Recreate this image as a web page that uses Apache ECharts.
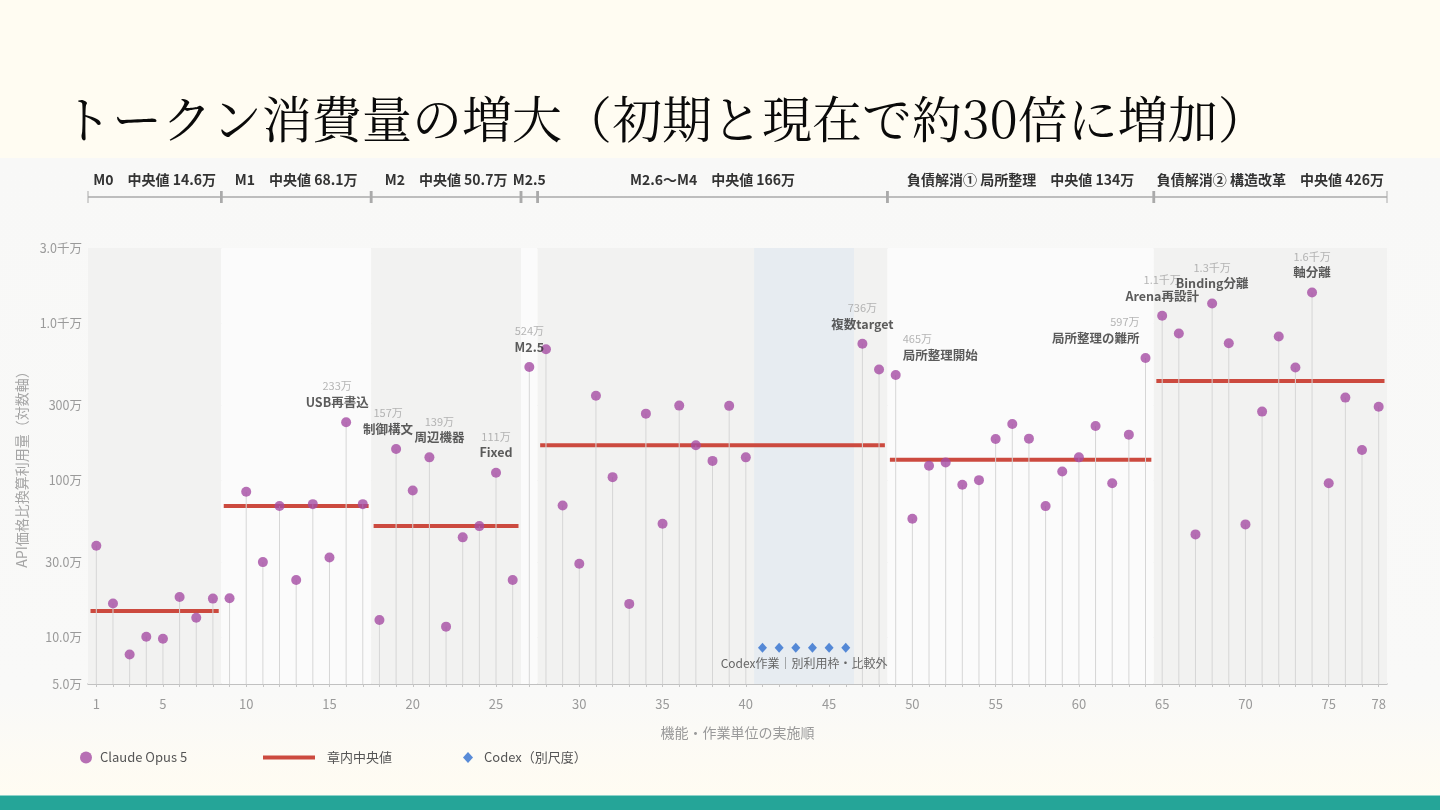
<!DOCTYPE html>
<html>
<head>
<meta charset="utf-8">
<script src="https://cdn.jsdelivr.net/npm/echarts@6/dist/echarts.min.js"></script>
<style>
  html, body { margin: 0; padding: 0; background: #fffcf2; }
  #panel { position: absolute; left: 0; top: 158px; width: 1440px; height: 637px;
           background: linear-gradient(#f8f8f7 0%, #f9f9f8 84%, #fffcf2 100%); }
  #bar { position: absolute; left: 0; top: 795px; width: 1440px; height: 15px;
         background: #25a598; border-top: 1px solid #8fd3ca; box-sizing: border-box; }
  #chart { position: absolute; left: 0; top: 0; width: 1440px; height: 810px; }
</style>
</head>
<body>
<div id="panel"></div>
<div id="bar"></div>
<div id="chart"></div>
<script>
const FONT = "'Noto Sans CJK JP', 'Noto Sans', sans-serif";

// Claude Opus 5: 実施順 1..78 の利用量（万）。null = Codex 区間
const claude = [
  38, 16.3, 7.7, 10.0, 9.7, 17.9, 13.2, 17.5,            // M0
  17.6, 84, 29.9, 68.1, 23, 70, 32, 233, 70,             // M1
  12.8, 157, 85.5, 139, 11.6, 43, 50.7, 111, 23,         // M2
  524,                                                   // M2.5
  679, 68.6, 29.2, 343, 104, 16.2, 264, 52.5, 297, 166,  // M2.6〜M4
  132, 296, 139, null, null, null, null, null, null, 736, 505,
  465, 56.5, 123, 129, 93, 99.5, 182, 227, 183, 68,      // 負債解消①
  113, 139, 220, 95, 194, 597,
  1110, 855, 44.9, 1330, 742, 52, 272, 818, 519, 1560,   // 負債解消②
  95, 334, 155, 292
];

// Codex（別尺度）
const codexSteps = [41, 42, 43, 44, 45, 46];
const codex = [8.5, 8.5, 8.5, 8.5, 8.5, 8.5];

// 章
const chapterNames = [
  'M0　中央値 14.6万', 'M1　中央値 68.1万', 'M2　中央値 50.7万', 'M2.5',
  'M2.6〜M4　中央値 166万', '負債解消① 局所整理　中央値 134万', '負債解消② 構造改革　中央値 426万'
];
const chapterStart = [0.5, 8.5, 17.5, 26.5, 27.5, 48.5, 64.5];
const chapterEnd = [8.5, 17.5, 26.5, 27.5, 48.5, 64.5, 78.5];
const chapterMedian = [14.6, 68.1, 50.7, null, 166, 134, 426];

// 注記 [実施順, 名称, 横ずれ, 揃え]
const notes = [
  [16, 'USB再書込', -9, 'center'],
  [19, '制御構文', -8, 'center'],
  [21, '周辺機器', 10, 'center'],
  [25, 'Fixed', 0, 'center'],
  [27, 'M2.5', 0, 'center'],
  [47, '複数target', 0, 'center'],
  [49, '局所整理開始', 7, 'left'],
  [64, '局所整理の難所', -6, 'right'],
  [65, 'Arena再設計', 0, 'center'],
  [68, 'Binding分離', 0, 'center'],
  [74, '軸分離', 0, 'center']
];

const xLabels = [1, 5, 10, 15, 20, 25, 30, 35, 40, 45, 50, 55, 60, 65, 70, 75, 78];
const yTicks = [5, 10, 30, 100, 300, 1000, 3000];

function fmtWan(v) {
  if (v >= 1000) return (v / 1000).toFixed(1) + '千万';
  if (v >= 100) return Math.round(v) + '万';
  return v.toFixed(1) + '万';
}

// build series data
const steps = claude.map((v, i) => i + 1);
const pts = [];
claude.forEach((v, i) => { if (v != null) pts.push([i + 1, v]); });
const noteMap = {};
notes.forEach(n => noteMap[n[0]] = n);
const claudeData = pts.map(p => {
  const n = noteMap[p[0]];
  if (!n) return { value: p };
  return {
    value: p,
    label: {
      show: true, position: 'top', distance: 7, offset: [n[2], 0], align: n[3],
      formatter: '{v|' + fmtWan(p[1]) + '}\n{n|' + n[1] + '}',
      rich: {
        v: { color: '#a3a3a3', fontSize: 11, lineHeight: 16, fontFamily: FONT, align: n[3] },
        n: { color: '#333', fontSize: 12.5, fontWeight: 'bold', lineHeight: 16, fontFamily: FONT, align: n[3] }
      }
    }
  };
});
const codexData = codexSteps.map((s, i) => [s, codex[i]]);
const medianData = [];
chapterMedian.forEach((m, i) => { if (m != null) medianData.push([chapterStart[i], chapterEnd[i], m]); });

const shades = ['#f2f2f1', '#fbfbfb'];
const bands = chapterStart.map((s, i) => [
  { xAxis: s, itemStyle: { color: shades[i % 2] } }, { xAxis: chapterEnd[i] }
]);
bands.push([
  { xAxis: codexSteps[0] - 0.5, itemStyle: { color: '#e7ecf1' } },
  { xAxis: codexSteps[codexSteps.length - 1] + 0.5 }
]);
const codexMid = (codexSteps[0] + codexSteps[codexSteps.length - 1]) / 2;

const chart = echarts.init(document.getElementById('chart'));

const option = {
  backgroundColor: 'transparent',
  animation: false,
  title: {
    text: 'トークン消費量の増大（初期と現在で約30倍に増加）',
    left: 57, top: 89,
    textStyle: { fontSize: 50, fontWeight: 'normal', color: '#0a0a0a',
                 fontFamily: "'Noto Serif CJK JP', 'DejaVu Serif', serif" }
  },
  legend: [
    { data: ['Claude Opus 5'], left: 75, top: 746, icon: 'circle', itemWidth: 12, itemHeight: 12,
      textStyle: { color: '#555', fontSize: 13, fontFamily: FONT, padding: [0, 0, 0, 3] } },
    { data: ['章内中央値'], left: 258, top: 746, icon: 'rect', itemWidth: 52, itemHeight: 4,
      textStyle: { color: '#555', fontSize: 13, fontFamily: FONT, padding: [0, 0, 0, 7] } },
    { data: ['Codex（別尺度）'], left: 458, top: 746, icon: 'diamond', itemWidth: 10, itemHeight: 11,
      textStyle: { color: '#555', fontSize: 13, fontFamily: FONT, padding: [0, 0, 0, 6] } }
  ],
  grid: [
    { left: 88, right: 53, top: 248, bottom: 126 },
    { left: 88, right: 53, top: 187, height: 20 }
  ],
  xAxis: [
    {
      type: 'value', min: 0.5, max: 78.5,
      name: '機能・作業単位の実施順', nameLocation: 'middle', nameGap: 42,
      nameTextStyle: { color: '#9a9a9a', fontSize: 14, fontFamily: FONT },
      axisLine: { lineStyle: { color: '#b5b5b5', width: 1.5 } },
      axisTick: { show: true, length: 3, customValues: steps, lineStyle: { color: '#c5c5c5' } },
      axisLabel: { customValues: xLabels, color: '#9a9a9a', fontSize: 13, margin: 14, fontFamily: FONT },
      splitLine: { show: false }
    },
    { gridIndex: 1, type: 'value', min: 0.5, max: 78.5, show: false }
  ],
  yAxis: [
    {
      type: 'log', logBase: 10, min: 5, max: 3000,
      name: 'API価格比換算利用量（対数軸）', nameLocation: 'middle', nameGap: 58,
      nameTextStyle: { color: '#a5a5a5', fontSize: 14, fontFamily: FONT },
      axisLine: { show: false },
      axisTick: { show: false, customValues: yTicks },
      axisLabel: { customValues: yTicks, color: '#9a9a9a', fontSize: 12.5, margin: 6,
                   fontFamily: FONT, formatter: fmtWan },
      splitLine: { show: true, lineStyle: { color: '#e6e6e6' } }
    },
    { gridIndex: 1, type: 'value', min: 0, max: 1, show: false }
  ],
  series: [
    {
      type: 'line', name: 'bands', data: [], silent: true, z: 1,
      markArea: { silent: true, data: bands }
    },
    {
      type: 'custom', name: '章内中央値', z: 2, silent: true,
      itemStyle: { color: '#cc4a3f' },
      data: medianData,
      encode: { x: [0, 1], y: 2 },
      renderItem(params, api) {
        const a = api.coord([api.value(0), api.value(2)]);
        const b = api.coord([api.value(1), api.value(2)]);
        return { type: 'line', shape: { x1: a[0] + 2.5, y1: a[1], x2: b[0] - 2.5, y2: b[1] },
                 style: { stroke: '#cc4a3f', lineWidth: 4 } };
      }
    },
    {
      type: 'custom', name: 'stems', z: 3, silent: true,
      data: pts,
      encode: { x: 0, y: 1 },
      renderItem(params, api) {
        const top = api.coord([api.value(0), api.value(1)]);
        const bot = api.coord([api.value(0), 5]);
        return { type: 'line', shape: { x1: top[0], y1: top[1], x2: bot[0], y2: bot[1] },
                 style: { stroke: '#d6d6d6', lineWidth: 1 } };
      }
    },
    {
      type: 'scatter', name: 'Claude Opus 5', z: 4,
      symbol: 'circle', symbolSize: 10,
      itemStyle: { color: '#a54ca4' },
      data: claudeData
    },
    {
      type: 'scatter', name: 'Codex（別尺度）', z: 4,
      symbol: 'diamond', symbolSize: [9, 10],
      itemStyle: { color: '#2f6fd0' },
      data: codexData,
      markPoint: {
        silent: true, symbol: 'circle', symbolSize: 0,
        label: { show: true, position: 'bottom', distance: 10, color: '#666', fontSize: 12,
                 fontFamily: FONT, formatter: 'Codex作業｜別利用枠・比較外' },
        data: [{ coord: [codexMid, codex[0]] }]
      }
    },
    {
      type: 'custom', name: 'chapters', xAxisIndex: 1, yAxisIndex: 1, silent: true,
      data: chapterStart.map((s, i) => [s, chapterEnd[i], i]),
      encode: { x: [0, 1] },
      renderItem(params, api) {
        const i = api.value(2);
        const a = api.coord([api.value(0), 0.5]);
        const b = api.coord([api.value(1), 0.5]);
        const y = a[1];
        const tick = (x, w) => ({ type: 'line', shape: { x1: x, y1: y - 6, x2: x, y2: y + 6 },
                                   style: { stroke: '#aaa', lineWidth: w } });
        return { type: 'group', children: [
          { type: 'line', shape: { x1: a[0], y1: y, x2: b[0], y2: y }, style: { stroke: '#aaa', lineWidth: 1.5 } },
          tick(a[0], i === 0 ? 1 : 2.5),
          tick(b[0], i === chapterStart.length - 1 ? 1 : 2.5),
          { type: 'text', x: (a[0] + b[0]) / 2, y: y - 17,
            style: { text: chapterNames[i], align: 'center', verticalAlign: 'middle',
                     fill: '#333', font: 'bold 14px ' + FONT } }
        ] };
      }
    }
  ]
};

chart.setOption(option);
</script>
</body>
</html>
